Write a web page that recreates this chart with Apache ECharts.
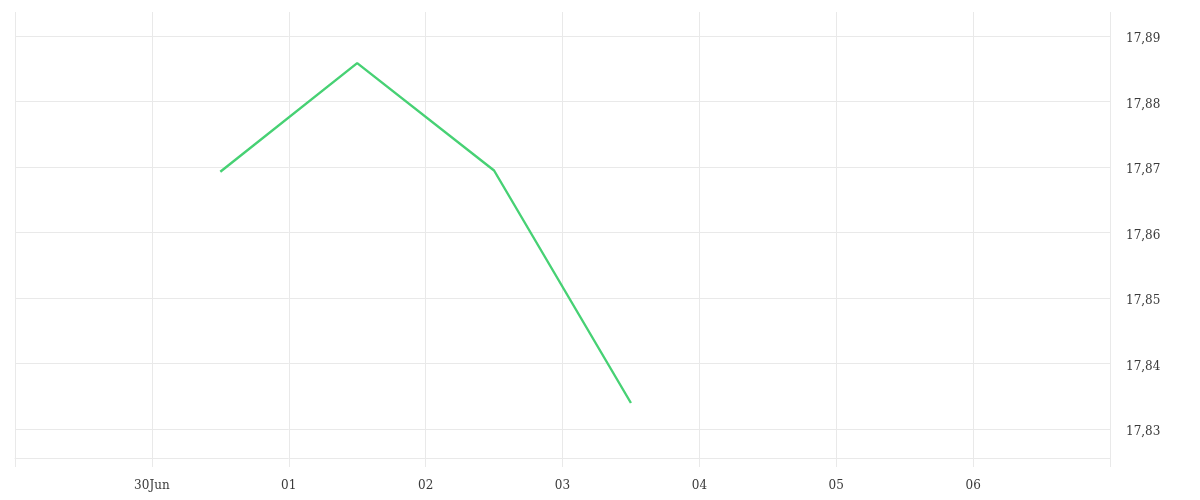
<!DOCTYPE html>
<html>
<head>
<meta charset="utf-8">
<script src="https://cdn.jsdelivr.net/npm/echarts@6/dist/echarts.min.js"></script>
<style>
html,body{margin:0;padding:0;background:#fff;}
#chart{width:1200px;height:500px;}
</style>
</head>
<body>
<div id="chart"></div>
<script>
// Data (dates in UTC)
var pointDates = ['2024-06-30T12:00:00Z', '2024-07-01T12:00:00Z', '2024-07-02T12:00:00Z', '2024-07-03T12:00:00Z'];
var pointValues = [17.8693, 17.8859, 17.8695, 17.8340];
var axisStartDate = '2024-06-29T00:00:00Z';
var axisEndDate = '2024-07-07T00:00:00Z';
var monthNames = ['Jan','Feb','Mar','Apr','May','Jun','Jul','Aug','Sep','Oct','Nov','Dec'];
var yMin = 17.8256;
var yMax = 17.8937;

var DAY = 86400000;
var xMin = Date.parse(axisStartDate);
var xMax = Date.parse(axisEndDate);
var seriesData = pointDates.map(function (d, i) { return [Date.parse(d), pointValues[i]]; });

var gridColor = '#e9e9e9';
var textColor = '#3a3a3a';
var fontFamily = '"DejaVu Serif", serif';

var chart = echarts.init(document.getElementById('chart'), null, { renderer: 'canvas' });
chart.setOption({
  animation: false,
  backgroundColor: '#fff',
  grid: { left: 15, right: 90, top: 12, bottom: 42, containLabel: false },
  xAxis: {
    type: 'value',
    min: xMin,
    max: xMax,
    interval: DAY,
    axisLine: { show: true, lineStyle: { color: gridColor, width: 1 } },
    axisTick: { show: true, inside: false, length: 9, lineStyle: { color: gridColor, width: 1 } },
    splitLine: { show: true, lineStyle: { color: gridColor, width: 1 } },
    axisLabel: {
      margin: 22,
      color: textColor,
      fontSize: 12,
      fontFamily: fontFamily,
      formatter: function (v) {
        if (v <= xMin || v >= xMax) return '';
        var d = new Date(v);
        var day = d.getUTCDate();
        var s = (day < 10 ? '0' : '') + day;
        if (v === xMin + DAY) s += monthNames[d.getUTCMonth()];
        return s;
      }
    }
  },
  yAxis: {
    type: 'value',
    position: 'right',
    min: yMin,
    max: yMax,
    splitNumber: 7,
    axisLine: { show: false },
    axisTick: { show: false },
    splitLine: { show: true, showMinLine: false, showMaxLine: false, lineStyle: { color: gridColor, width: 1 } },
    axisLabel: {
      showMinLabel: false,
      showMaxLabel: false,
      margin: 16,
      verticalAlign: 'top',
      lineHeight: 6,
      color: textColor,
      fontSize: 12,
      fontFamily: fontFamily,
      formatter: function (v) { return v.toFixed(2).replace('.', ','); }
    }
  },
  series: [{
    type: 'line',
    data: seriesData,
    showSymbol: false,
    symbol: 'none',
    lineStyle: { color: '#47d174', width: 2.4 },
    itemStyle: { color: '#47d174' }
  }]
});
</script>
</body>
</html>
